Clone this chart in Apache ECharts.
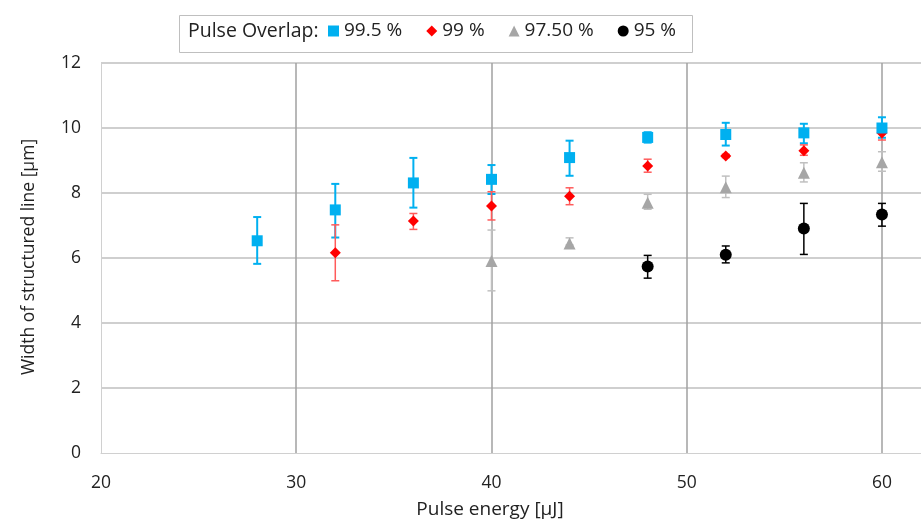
<!DOCTYPE html>
<html><head><meta charset="utf-8">
<script src="https://cdn.jsdelivr.net/npm/echarts@6/dist/echarts.min.js"></script>
<style>html,body{margin:0;padding:0;background:#fff;overflow:hidden}#c{width:921px;height:521px}</style>
</head><body><div id="c"></div>
<script>
// ---- data ----
const seriesNames = ['99.5 %', '99 %', '97.50 %', '95 %'];
const energy995 = [28, 32, 36, 40, 44, 48, 52, 56, 60];
const width995  = [6.53, 7.48, 8.31, 8.42, 9.09, 9.71, 9.80, 9.85, 10.0];
const low995    = [5.82, 6.63, 7.55, 7.97, 8.53, 9.55, 9.46, 9.53, 9.70];
const high995   = [7.26, 8.28, 9.08, 8.86, 9.61, 9.87, 10.16, 10.13, 10.33];

const energy99 = [32, 36, 40, 44, 48, 52, 56, 60];
const width99  = [6.16, 7.14, 7.60, 7.90, 8.83, 9.14, 9.30, 9.85];
const low99    = [5.30, 6.88, 7.17, 7.64, 8.64, 9.09, 9.16, 9.63];
const high99   = [7.02, 7.37, 8.04, 8.16, 9.04, 9.19, 9.48, 9.96];

const energy975 = [40, 44, 48, 52, 56, 60];
const width975  = [5.91, 6.45, 7.70, 8.18, 8.62, 8.95];
const low975    = [4.99, 6.40, 7.50, 7.86, 8.34, 8.67];
const high975   = [6.86, 6.62, 7.96, 8.52, 8.93, 9.27];

const energy95 = [48, 52, 56, 60];
const width95  = [5.74, 6.10, 6.91, 7.34];
const low95    = [5.38, 5.85, 6.11, 6.98];
const high95   = [6.08, 6.37, 7.68, 7.68];

const yTicks = [0, 2, 4, 6, 8, 10, 12];
const xTicks = [20, 30, 40, 50, 60];

// ---- styling ----
const colors = ['#00b0f0', '#ff0000', '#a6a6a6', '#000000'];
const errColors = ['#00b0f0', '#ff5b5b', '#c0c0c0', '#000000'];
const errWidths = [2, 1.5, 1.5, 1.5];
const symbols = ['rect', 'diamond', 'triangle', 'circle'];
const symSizes = [11, 11, 12, 12];
const FONT = 'Open Sans';

const sets = [
  [energy995, width995, low995, high995],
  [energy99, width99, low99, high99],
  [energy975, width975, low975, high975],
  [energy95, width95, low95, high95]
];

const series = [];
sets.forEach((s, i) => {
  series.push({
    type: 'custom',
    name: seriesNames[i] + ' err',
    data: s[0].map((x, k) => [x, s[2][k], s[3][k]]),
    z: 2 + i,
    silent: true,
    renderItem: function (params, api) {
      const x = api.value(0);
      const lo = api.coord([x, api.value(1)]);
      const hi = api.coord([x, api.value(2)]);
      const cap = 4;
      const st = { stroke: errColors[i], lineWidth: errWidths[i] };
      return {
        type: 'group',
        children: [
          { type: 'line', shape: { x1: lo[0], y1: lo[1], x2: hi[0], y2: hi[1] }, style: st },
          { type: 'line', shape: { x1: lo[0] - cap, y1: lo[1], x2: lo[0] + cap, y2: lo[1] }, style: st },
          { type: 'line', shape: { x1: hi[0] - cap, y1: hi[1], x2: hi[0] + cap, y2: hi[1] }, style: st }
        ]
      };
    }
  });
});
sets.forEach((s, i) => {
  series.push({
    type: 'scatter',
    name: seriesNames[i],
    data: s[0].map((x, k) => [x, s[1][k]]),
    symbol: symbols[i],
    symbolSize: symSizes[i],
    itemStyle: { color: colors[i], opacity: 1 },
    z: 10 + (3 - i)
  });
});

const chart = echarts.init(document.getElementById('c'));
chart.setOption({
  animation: false,
  grid: { left: 101, right: 0, top: 63, bottom: 68, containLabel: false, outerBoundsMode: 'none' },
  xAxis: {
    type: 'value', min: 20, max: 62, interval: 10,
    axisLine: { show: true, lineStyle: { color: '#d0d0d0', width: 1 } },
    axisTick: { show: false },
    axisLabel: { fontFamily: FONT, fontSize: 17.5, color: '#222', margin: 21, showMaxLabel: false,
      formatter: v => xTicks.includes(v) ? String(v) : '' },
    splitLine: { show: true, showMaxLine: false, showMinLine: false, lineStyle: { color: '#a0a0a0', width: 1.5 } }
  },
  yAxis: {
    type: 'value', min: 0, max: 12, interval: 2,
    axisLine: { show: true, lineStyle: { color: '#d0d0d0', width: 1 } },
    axisTick: { show: false },
    axisLabel: { fontFamily: FONT, fontSize: 17.5, color: '#222', margin: 20,
      formatter: v => yTicks.includes(v) ? String(v) : '' },
    splitLine: { show: true, showMinLine: false, lineStyle: { color: '#bfbfbf', width: 1.5 } }
  },
  legend: {
    data: seriesNames.map((n, i) => ({ name: n, icon: symbols[i] })),
    left: 328, top: 21, padding: 0,
    itemWidth: 11, itemHeight: 11, itemGap: 24,
    textStyle: { fontFamily: FONT, fontSize: 19, color: '#222', lineHeight: 20 },
    selectedMode: false
  },
  graphic: [
    { type: 'rect', left: 177, top: 13, shape: { width: 513, height: 37 },
      style: { fill: 'none', stroke: '#bfbfbf', lineWidth: 1 }, z: 0 },
    { type: 'text', x: 188, y: 31, style: { text: 'Pulse Overlap:', fontFamily: FONT, fontSize: 19.5, fill: '#222', verticalAlign: 'middle' } },
    { type: 'text', x: 490, y: 510, style: { text: 'Pulse energy [µJ]', fontFamily: FONT, fontSize: 19, fill: '#222', align: 'center', verticalAlign: 'middle' } },
    { type: 'text', x: 29, y: 257, rotation: Math.PI / 2, style: { text: 'Width of structured line [µm]', fontFamily: FONT, fontSize: 17.5, fill: '#222', align: 'center', verticalAlign: 'middle' } }
  ],
  series: series
});
</script></body></html>
